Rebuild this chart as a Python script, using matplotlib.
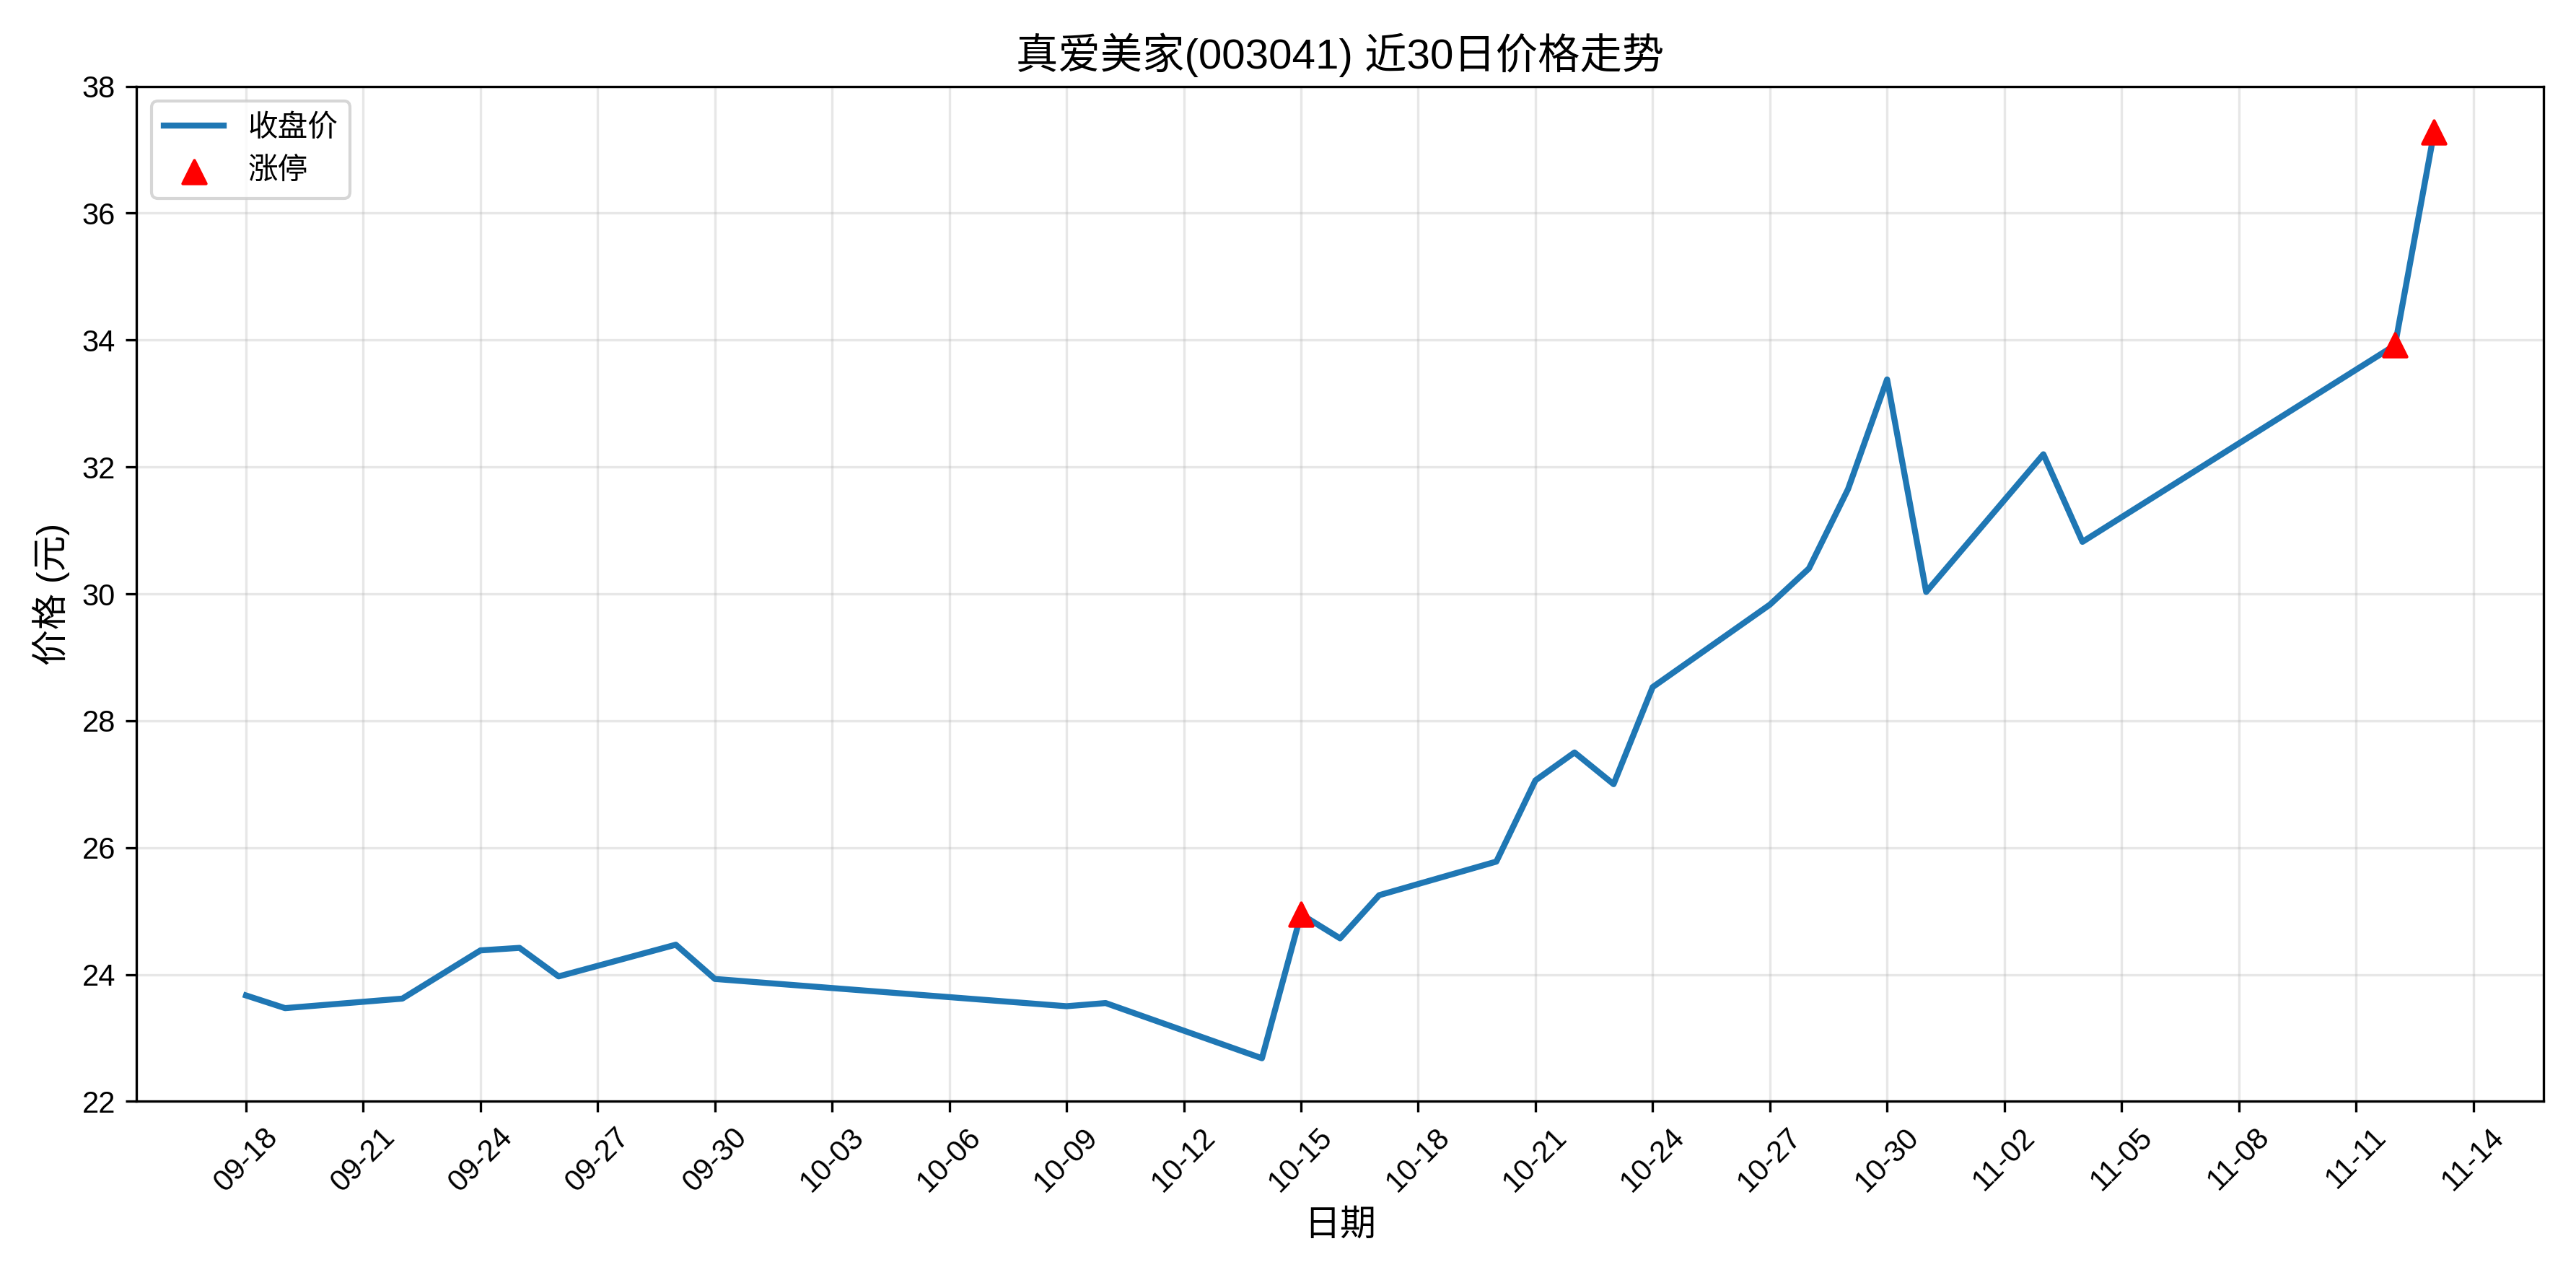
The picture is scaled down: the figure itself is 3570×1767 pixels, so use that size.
import pandas as pd
import matplotlib.pyplot as plt
import matplotlib.dates as mdates

plt.rcParams['font.family'] = ['Liberation Sans', 'Noto Sans CJK SC', 'DejaVu Sans']
plt.rcParams['axes.unicode_minus'] = False

dates = ["2025-09-18", "2025-09-19", "2025-09-22", "2025-09-24", "2025-09-25", "2025-09-26",
         "2025-09-29", "2025-09-30", "2025-10-09", "2025-10-10", "2025-10-14", "2025-10-15",
         "2025-10-16", "2025-10-17", "2025-10-20", "2025-10-21", "2025-10-22", "2025-10-23",
         "2025-10-24", "2025-10-27", "2025-10-28", "2025-10-29", "2025-10-30", "2025-10-31",
         "2025-11-03", "2025-11-04", "2025-11-12", "2025-11-13"]
close = [23.67, 23.47, 23.62, 24.38, 24.42, 23.97, 24.47, 23.93, 23.50, 23.55, 22.68, 24.95,
         24.57, 25.25, 25.78, 27.06, 27.50, 27.00, 28.53, 29.83, 30.40, 31.65, 33.38, 30.03,
         32.20, 30.82, 33.92, 37.28]
limit_up_dates = ["2025-10-15", "2025-11-12", "2025-11-13"]
limit_up_close = [24.95, 33.92, 37.28]

x = pd.to_datetime(dates)
xl = pd.to_datetime(limit_up_dates)

fig, ax = plt.subplots(figsize=(11.9, 5.89), dpi=300)
ax.plot(x, close, color="#1f77b4", linewidth=2, label="收盘价")
ax.scatter(xl, limit_up_close, color="red", marker="^", s=60, zorder=5, label="涨停")
ax.set_title("真爱美家(003041) 近30日价格走势", fontsize=14)
ax.set_xlabel("日期", fontsize=12)
ax.set_ylabel("价格 (元)", fontsize=12)
ax.xaxis.set_major_locator(mdates.DayLocator(interval=3))
ax.xaxis.set_major_formatter(mdates.DateFormatter("%m-%d"))
ax.set_ylim(22, 38)
plt.xticks(rotation=45)
ax.grid(True, alpha=0.3)
ax.legend(loc="upper left")
plt.tight_layout()
plt.savefig("out.png")
